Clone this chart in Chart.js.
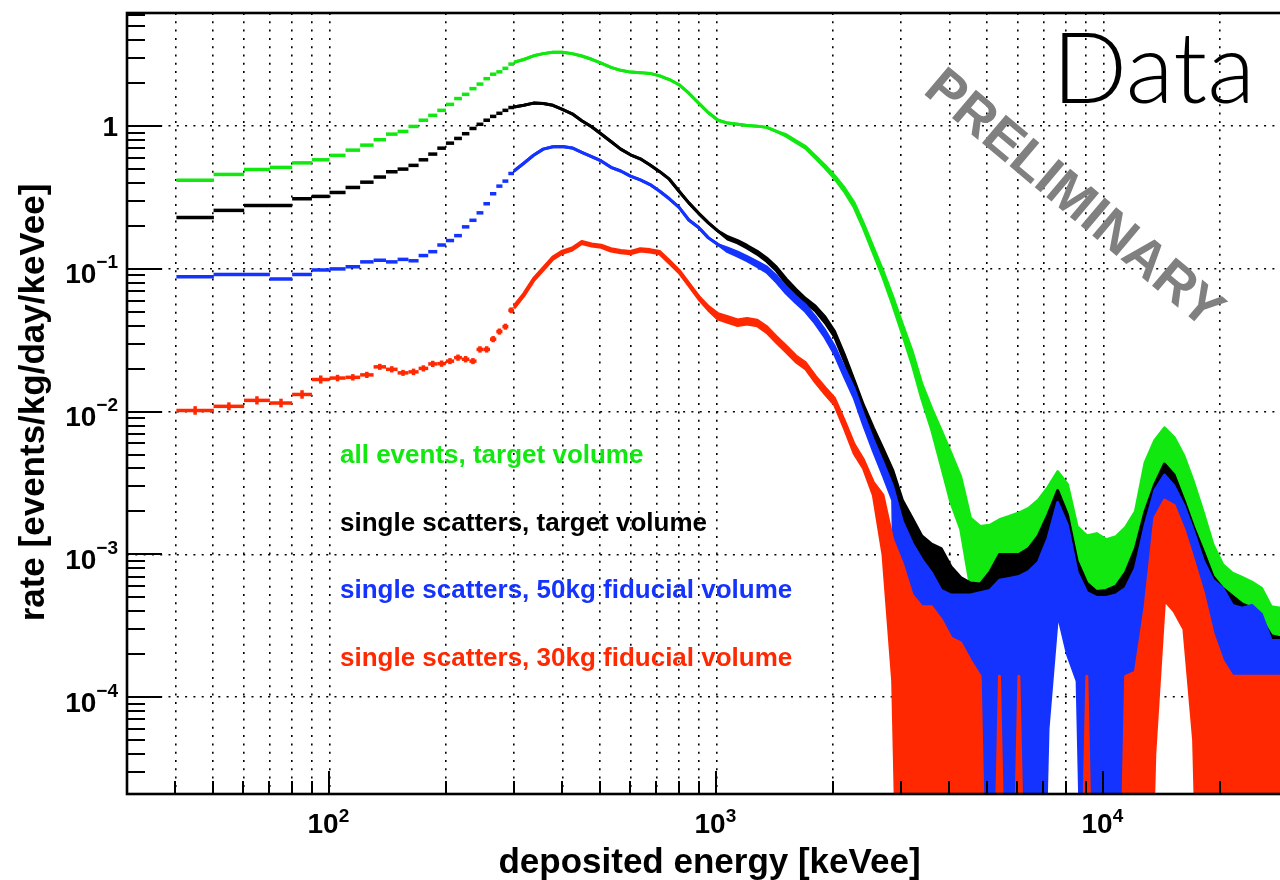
<!DOCTYPE html>
<html>
<head>
<meta charset="utf-8">
<title>deposited energy spectrum</title>
<script src="https://cdn.jsdelivr.net/npm/chart.js@4.4.1/dist/chart.umd.min.js"></script>
<style>
  html, body { margin: 0; padding: 0; background: #ffffff; overflow: hidden; }
  #box { width: 1288px; height: 880px; }
</style>
</head>
<body>
<div id="box"><canvas id="spectrum" width="1288" height="880"></canvas></div>
<script>
// ---- data (rates in events/kg/day/keVee) ---------------------------------

// 10 keV bins below 300 keVee, given by their centres
const lowBinKeV = [45, 55, 65, 75, 85, 95, 105, 115, 125, 135, 145, 155, 165,
                   175, 185, 195, 205, 215, 225, 235, 245, 255, 265, 275, 285, 295];
const lowBinWidth = 10;

const lowAllEvents = [0.417, 0.459, 0.497, 0.514, 0.553, 0.581, 0.624, 0.679, 0.736, 0.803, 0.879, 0.918, 0.995,
                      1.10, 1.19, 1.29, 1.42, 1.56, 1.67, 1.83, 1.97, 2.15, 2.31, 2.40, 2.54, 2.72];
const lowSingle = [0.229, 0.257, 0.278, 0.278, 0.310, 0.322, 0.343, 0.372, 0.405, 0.440, 0.479, 0.500, 0.531,
                   0.581, 0.637, 0.701, 0.760, 0.820, 0.885, 0.963, 1.03, 1.10, 1.17, 1.23, 1.29, 1.35];
const lowSingle50 = [0.0881, 0.0914, 0.0914, 0.0850, 0.0914, 0.0983, 0.100, 0.1035, 0.112, 0.115, 0.112, 0.1166, 0.114,
                     0.124, 0.132, 0.147, 0.158, 0.171, 0.197, 0.219, 0.247, 0.286, 0.336, 0.380, 0.412, 0.466];
const lowSingle30 = [0.0102, 0.0109, 0.0120, 0.0115, 0.0132, 0.0168, 0.0172, 0.0174, 0.0181, 0.0206, 0.0198, 0.0187, 0.0190,
                     0.0201, 0.0216, 0.0217, 0.0226, 0.0239, 0.0233, 0.0226, 0.0273, 0.0273, 0.0322, 0.0364, 0.0394, 0.0513];
const lowSingle30Err = [0.0007, 0.0007, 0.0008, 0.0008, 0.0009, 0.0011, 0.0009, 0.0009, 0.0009, 0.0010, 0.0010, 0.0009, 0.0010,
                        0.0010, 0.0011, 0.0011, 0.0011, 0.0012, 0.0012, 0.0011, 0.0014, 0.0014, 0.0016, 0.0018, 0.0019, 0.0024];

// above 300 keVee: sampled energies, rate and rate error
const highKeV = [300, 318, 337, 357, 378, 400, 424, 449, 476, 504,
                 534, 566, 600, 636, 674, 714, 756, 801, 849, 900,
                 954, 1010, 1070, 1135, 1200, 1275, 1350, 1430, 1515, 1605,
                 1700, 1800, 1910, 2020, 2140, 2270, 2400, 2545, 2695, 2855,
                 3025, 3205, 3395, 3600, 3810, 4040, 4280, 4535, 4805, 5090,
                 5390, 5710, 6050, 6410, 6790, 7195, 7620, 8075, 8555, 9065,
                 9600, 10170, 10780, 11420, 12100, 12820, 13580, 14385, 15240, 16150,
                 17110, 18130, 19200, 20340, 21550, 22830, 24190, 25630, 27150, 28760];

const highAllEvents = [2.80, 2.93, 3.11, 3.22, 3.29, 3.29, 3.22, 3.10, 2.94, 2.76,
                       2.58, 2.46, 2.39, 2.37, 2.34, 2.25, 2.12, 1.95, 1.70, 1.45,
                       1.24, 1.10, 1.05, 1.03, 1.01, 1.00, 0.98, 0.92, 0.86, 0.78,
                       0.71, 0.61, 0.52, 0.44, 0.36, 0.28, 0.20, 0.135, 0.092, 0.060,
                       0.038, 0.024, 0.0140, 0.0090, 0.0058, 0.0037, 0.0025, 0.0012, 0.00105, 0.00105,
                       0.00115, 0.0012, 0.0013, 0.0014, 0.0016, 0.0020, 0.0026, 0.0021, 0.00105, 0.0009,
                       0.00092, 0.00085, 0.0009, 0.0010, 0.0013, 0.0030, 0.0044, 0.0054, 0.0046, 0.0034,
                       0.0022, 0.0013, 0.0008, 0.00058, 0.00050, 0.00047, 0.00043, 0.00039, 0.00029, 0.00028];
const highAllEventsErr = [0, 0, 0, 0, 0, 0, 0, 0, 0, 0,
                          0, 0, 0, 0, 0, 0, 0, 0, 0, 0,
                          0, 0, 0, 0, 0, 0, 0, 0, 0.01, 0.01,
                          0.01, 0.01, 0.01, 0.01, 0.01, 0.01, 0.008, 0.006, 0.005, 0.004,
                          0.003, 0.0025, 0.0017, 0.0015, 0.0016, 0.0014, 0.0010, 0.0006, 0.00052, 0.00055,
                          0.0006, 0.00065, 0.00065, 0.0007, 0.0008, 0.00095, 0.0012, 0.0010, 0.00052, 0.00045,
                          0.00048, 0.00042, 0.00043, 0.00055, 0.0007, 0.0014, 0.0019, 0.0023, 0.0020, 0.0015,
                          0.0010, 0.00066, 0.00037, 0.00027, 0.00024, 0.00022, 0.00021, 0.00019, 0.00014, 0.00014];

const highSingle = [1.36, 1.40, 1.45, 1.44, 1.40, 1.31, 1.22, 1.09, 0.99, 0.88,
                    0.78, 0.69, 0.63, 0.59, 0.535, 0.48, 0.425, 0.35, 0.29, 0.245,
                    0.21, 0.184, 0.165, 0.155, 0.143, 0.130, 0.116, 0.100, 0.082, 0.069,
                    0.060, 0.053, 0.044, 0.035, 0.024, 0.0157, 0.0104, 0.0072, 0.0050, 0.0034,
                    0.00144, 0.00108, 0.00081, 0.00071, 0.00066, 0.00049, 0.00041, 0.00038, 0.00037, 0.00045,
                    0.0006, 0.0006, 0.0006, 0.00066, 0.00081, 0.00114, 0.00168, 0.00114, 0.00054, 0.00038,
                    0.00033, 0.00034, 0.00036, 0.00045, 0.00066, 0.0012, 0.00186, 0.0026, 0.00216, 0.00144,
                    0.00093, 0.00063, 0.00042, 0.00035, 0.00031, 0.00027, 0.00025, 0.00021, 0.00016, 0.00016];
const highSingleErr = [0, 0, 0, 0, 0, 0, 0, 0, 0, 0,
                       0, 0, 0, 0, 0, 0, 0, 0, 0, 0,
                       0, 0, 0.003, 0.003, 0.003, 0.003, 0.003, 0.003, 0.003, 0.003,
                       0.002, 0.002, 0.002, 0.0015, 0.0012, 0.0009, 0.0007, 0.0005, 0.0005, 0.0005,
                       0.00096, 0.00072, 0.00054, 0.00047, 0.00044, 0.00033, 0.00028, 0.00025, 0.00025, 0.0003,
                       0.0004, 0.0004, 0.0004, 0.00044, 0.00054, 0.00076, 0.00112, 0.00076, 0.00036, 0.00025,
                       0.00022, 0.00022, 0.00024, 0.0003, 0.00044, 0.0008, 0.00124, 0.0017, 0.00144, 0.00096,
                       0.00062, 0.00042, 0.00028, 0.00023, 0.0002, 0.00018, 0.00017, 0.00014, 0.00011, 0.0001];

const highSingle50 = [0.485, 0.55, 0.625, 0.69, 0.718, 0.72, 0.703, 0.655, 0.612, 0.57,
                      0.515, 0.485, 0.446, 0.42, 0.39, 0.35, 0.31, 0.27, 0.22, 0.195,
                      0.165, 0.148, 0.136, 0.127, 0.118, 0.108, 0.099, 0.085, 0.071, 0.061,
                      0.053, 0.044, 0.035, 0.027, 0.019, 0.0135, 0.0088, 0.0058, 0.0040, 0.0027,
                      0.00085, 0.0006, 0.00046, 0.00037, 0.00028, 0.00026, 0.00026, 0.00026, 0.00027, 0.00028,
                      0.00033, 0.00034, 0.00035, 0.00038, 0.00044, 0.00068, 0.00135, 0.0009, 0.00044, 0.00027,
                      0.00025, 0.00025, 0.00026, 0.00029, 0.0004, 0.0008, 0.0018, 0.0023, 0.0019, 0.0014,
                      0.00087, 0.00045, 0.00033, 0.00029, 0.00022, 0.00021, 0.00022, 0.00019, 0.000125, 0.000125];
const highSingle50Err = [0, 0, 0, 0, 0, 0, 0, 0, 0, 0,
                         0, 0, 0, 0, 0, 0, 0, 0, 0, 0,
                         0, 0, 0.004, 0.004, 0.004, 0.004, 0.004, 0.004, 0.0035, 0.003,
                         0.0027, 0.0023, 0.0019, 0.0016, 0.0013, 0.001, 0.0007, 0.0005, 0.0004, 0.0003,
                         0.00085, 0.0006, 0.00046, 0.00037, 0.00028, 0.00026, 0.00026, 0.00026, 0.00027, 0.00028,
                         0.00033, 0.00034, 0.00035, 0.00038, 0.00044, 0.00062, 0.00096, 0.0007, 0.00031, 0.00027,
                         0.00025, 0.00025, 0.00026, 0.00029, 0.0004, 0.0008, 0.001, 0.0013, 0.0011, 0.0008,
                         0.00058, 0.00045, 0.00033, 0.00029, 0.00022, 0.00021, 0.00022, 0.00019, 0.000125, 0.000125];

const highSingle30 = [0.054, 0.066, 0.084, 0.100, 0.119, 0.131, 0.138, 0.153, 0.147, 0.144,
                      0.136, 0.132, 0.130, 0.136, 0.134, 0.130, 0.112, 0.096, 0.078, 0.063,
                      0.053, 0.0465, 0.0442, 0.0420, 0.0430, 0.0418, 0.0376, 0.0320, 0.0275, 0.0235,
                      0.0210, 0.0170, 0.0140, 0.0118, 0.0082, 0.0055, 0.0043, 0.0029, 0.0018, 0.0007,
                      0.00043, 0.00026, 0.000215, 0.000215, 0.000175, 0.00013, 0.00012, 0.00009, 0.00007, 0,
                      0.00007, 0, 0.00007, 0, 0, 0, 0, 0, 0, 0.00007,
                      0, 0, 0, 0.00007, 0.000075, 0.000215, 0.00092, 0.00144, 0.0013, 0.0009,
                      0.00048, 0.00027, 0.00014, 0.00009, 0.00007, 0.00007, 0.00007, 0.00007, 0.00007, 0.00007];
const highSingle30Err = [0.001, 0.0012, 0.0015, 0.0017, 0.002, 0.0022, 0.0023, 0.0025, 0.0025, 0.0025,
                         0.0025, 0.0025, 0.0025, 0.0025, 0.0025, 0.0025, 0.0022, 0.0019, 0.0016, 0.0014,
                         0.0015, 0.002, 0.002, 0.0019, 0.0019, 0.0019, 0.0017, 0.0015, 0.0013, 0.0011,
                         0.001, 0.0008, 0.0007, 0.0006, 0.0005, 0.0004, 0.0003, 0.0003, 0.0008, 0.00057,
                         0.00043, 0.00026, 0.000215, 0.000215, 0.000175, 0.00013, 0.00012, 0.00009, 0.00007, 0,
                         0.00007, 0, 0.00007, 0, 0, 0, 0, 0, 0, 0.00007,
                         0, 0, 0, 0.00007, 0.000075, 0.000215, 0.00088, 0.00096, 0.0009, 0.0006,
                         0.00043, 0.00027, 0.00014, 0.00009, 0.00007, 0.00007, 0.00007, 0.00007, 0.00007, 0.00007];

const seriesLabels = ['all events, target volume', 'single scatters, target volume',
                      'single scatters, 50kg fiducial volume', 'single scatters, 30kg fiducial volume'];

// decade labels on the axes (powers of ten)
const xLabelExp = [2, 3, 4];
const yLabelExp = [-4, -3, -2, -1, 0];

// ---- style ----------------------------------------------------------------
const colAll = '#10e810';
const colSingle = '#000000';
const col50 = '#1433ff';
const col30 = '#ff2800';
const FONT = '"Liberation Sans", Arial, Helvetica, sans-serif';
const FLOOR = 1e-7; // bins whose error reaches zero run off the bottom of the axis

Chart.defaults.font.family = FONT;

const isDecade = v => Math.abs(Math.log10(v) - Math.round(Math.log10(v))) < 1e-9;

// every 1..9 x 10^n between the axis limits
function logTicks(min, max) {
  const out = [];
  for (let p = Math.floor(Math.log10(min)); p <= Math.ceil(Math.log10(max)); p++) {
    for (let m = 1; m <= 9; m++) {
      const v = Number((m * Math.pow(10, p)).toPrecision(6));
      if (v > min * 1.0001 && v < max * 0.9999) out.push(v);
    }
  }
  return out;
}
const xTickValues = logTicks(30, 30000);
const yTickValues = logTicks(2.1e-5, 6.2);

// half the pixel width of a 10 keV bin -> length of the horizontal bin bar
function halfBinPx(ctx) {
  const x = ctx.chart.scales.x;
  const e = lowBinKeV[ctx.dataIndex];
  return (x.getPixelForValue(e + lowBinWidth / 2) - x.getPixelForValue(e - lowBinWidth / 2)) / 2;
}
// half the pixel height of the red error bars
function halfErrPx(ctx) {
  const y = ctx.chart.scales.y;
  const i = ctx.dataIndex;
  return (y.getPixelForValue(lowSingle30[i] - lowSingle30Err[i]) -
          y.getPixelForValue(lowSingle30[i] + lowSingle30Err[i])) / 2;
}

const series = [
  { low: lowAllEvents, high: highAllEvents, err: highAllEventsErr, color: colAll },
  { low: lowSingle, high: highSingle, err: highSingleErr, color: colSingle },
  { low: lowSingle50, high: highSingle50, err: highSingle50Err, color: col50 },
  { low: lowSingle30, high: highSingle30, err: highSingle30Err, color: col30 }
];

const datasets = [];
series.forEach((s, k) => {
  const base = 40 - 10 * k; // green at the back, red in front
  datasets.push({
    type: 'line',
    data: highKeV.map((e, i) => ({ x: e, y: Math.max(s.high[i] + s.err[i], FLOOR) })),
    borderColor: s.color, backgroundColor: s.color, borderWidth: 3,
    borderJoinStyle: 'round', pointRadius: 0, tension: 0, fill: '+1', order: base
  });
  datasets.push({
    type: 'line',
    data: highKeV.map((e, i) => ({ x: e, y: Math.max(s.high[i] - s.err[i], FLOOR) })),
    borderColor: s.color, borderWidth: 3, borderJoinStyle: 'round',
    pointRadius: 0, tension: 0, fill: false, order: base - 1
  });
  datasets.push({
    type: 'scatter',
    data: lowBinKeV.map((e, i) => ({ x: e, y: s.low[i] })),
    pointStyle: 'line', pointRadius: halfBinPx, pointBorderWidth: 3.5,
    borderColor: s.color, backgroundColor: s.color, order: base - 2
  });
});
datasets.push({
  type: 'scatter',
  data: lowBinKeV.map((e, i) => ({ x: e, y: lowSingle30[i] })),
  pointStyle: 'line', pointRotation: 90, pointRadius: halfErrPx, pointBorderWidth: 3.5,
  borderColor: col30, order: 1
});

// ticks inside the frame, decade labels, titles and annotations
const rootStyle = {
  id: 'rootStyle',
  afterDatasetsDraw(chart) {
    const { ctx, chartArea: a, scales: { x, y } } = chart;
    ctx.save();
    ctx.strokeStyle = '#000';
    ctx.lineWidth = 2;
    ctx.beginPath();
    for (const t of y.ticks) {
      const py = Math.round(y.getPixelForValue(t.value));
      ctx.moveTo(a.left, py);
      ctx.lineTo(a.left + (isDecade(t.value) ? 35 : 18), py);
    }
    for (const t of x.ticks) {
      const px = Math.round(x.getPixelForValue(t.value));
      ctx.moveTo(px, a.bottom);
      ctx.lineTo(px, a.bottom - (isDecade(t.value) ? 23 : 13));
    }
    ctx.stroke();
    ctx.lineWidth = 2.6;
    ctx.strokeRect(a.left, a.top, a.right - a.left, a.bottom - a.top);
    ctx.restore();
  },
  afterDraw(chart) {
    const { ctx, chartArea: a, scales: { x, y } } = chart;
    ctx.save();
    ctx.fillStyle = '#000';
    ctx.textBaseline = 'alphabetic';

    // y decade labels
    for (const p of yLabelExp) {
      const py = y.getPixelForValue(Math.pow(10, p));
      const right = a.left - 9;
      if (p === 0) {
        ctx.font = `bold 28px ${FONT}`;
        ctx.textAlign = 'right';
        ctx.fillText('1', right, py + 10);
      } else {
        const sup = '\u2212' + (-p);
        ctx.font = `bold 19px ${FONT}`;
        const ws = ctx.measureText(sup).width;
        ctx.textAlign = 'left';
        ctx.fillText(sup, right - ws, py - 0.5);
        ctx.font = `bold 28px ${FONT}`;
        ctx.textAlign = 'right';
        ctx.fillText('10', right - ws, py + 14.5);
      }
    }
    // x decade labels
    ctx.textAlign = 'left';
    for (const p of xLabelExp) {
      const px = x.getPixelForValue(Math.pow(10, p));
      ctx.font = `bold 28px ${FONT}`;
      const wb = ctx.measureText('10').width;
      ctx.font = `bold 19px ${FONT}`;
      const ws = ctx.measureText(String(p)).width;
      const left = px - (wb + ws) / 2 - 1;
      ctx.font = `bold 28px ${FONT}`;
      ctx.fillText('10', left, a.bottom + 39);
      ctx.font = `bold 19px ${FONT}`;
      ctx.fillText(String(p), left + wb, a.bottom + 28);
    }

    // axis titles
    ctx.font = `bold 35px ${FONT}`;
    ctx.textAlign = 'center';
    ctx.fillText('deposited energy [keVee]', (a.left + a.right) / 2 + 2, a.bottom + 79);
    ctx.save();
    ctx.translate(44, (a.top + a.bottom) / 2 - 1);
    ctx.rotate(-Math.PI / 2);
    ctx.fillText('rate [events/kg/day/keVee]', 0, 0);
    ctx.restore();

    // series labels
    ctx.font = `bold 26px ${FONT}`;
    ctx.textAlign = 'left';
    const colors = [colAll, colSingle, col50, col30];
    seriesLabels.forEach((txt, i) => {
      ctx.fillStyle = colors[i];
      ctx.fillText(txt, 340, 463 + i * 67.5);
    });

    // "Data" tag and preliminary stamp
    ctx.fillStyle = '#000';
    ctx.font = '300 99px Lato, "Liberation Sans", sans-serif';
    ctx.fillText('Data', 1052, 103);

    ctx.save();
    ctx.translate(1073, 200);
    ctx.rotate(40 * Math.PI / 180);
    ctx.font = `bold 54px ${FONT}`;
    ctx.fillStyle = '#808080';
    ctx.textAlign = 'center';
    ctx.textBaseline = 'middle';
    ctx.fillText('PRELIMINARY', 0, 0);
    ctx.restore();

    ctx.restore();
  }
};

new Chart(document.getElementById('spectrum'), {
  type: 'scatter',
  data: { datasets },
  plugins: [rootStyle],
  options: {
    responsive: false,
    animation: false,
    devicePixelRatio: 1,
    events: [],
    layout: { padding: { top: 13, left: 0, right: 0, bottom: 0 } },
    plugins: { legend: { display: false }, tooltip: { enabled: false } },
    scales: {
      x: {
        type: 'logarithmic', min: 30, max: 30000,
        afterBuildTicks: s => { s.ticks = xTickValues.map(v => ({ value: v })); },
        afterFit: s => { s.height = 86; },
        ticks: { display: false, autoSkip: false },
        grid: { color: '#000', lineWidth: 1.6, drawTicks: false },
        border: { display: false, dash: [2, 6.3] }
      },
      y: {
        type: 'logarithmic', min: 2.1e-5, max: 6.2,
        afterBuildTicks: s => { s.ticks = yTickValues.map(v => ({ value: v })); },
        afterFit: s => { s.width = 127; },
        ticks: { display: false, autoSkip: false },
        grid: {
          color: c => (c.tick && isDecade(c.tick.value)) ? '#000' : 'rgba(0,0,0,0)',
          lineWidth: 1.6, drawTicks: false
        },
        border: { display: false, dash: [2, 6.3] }
      }
    }
  }
});
</script>
</body>
</html>
